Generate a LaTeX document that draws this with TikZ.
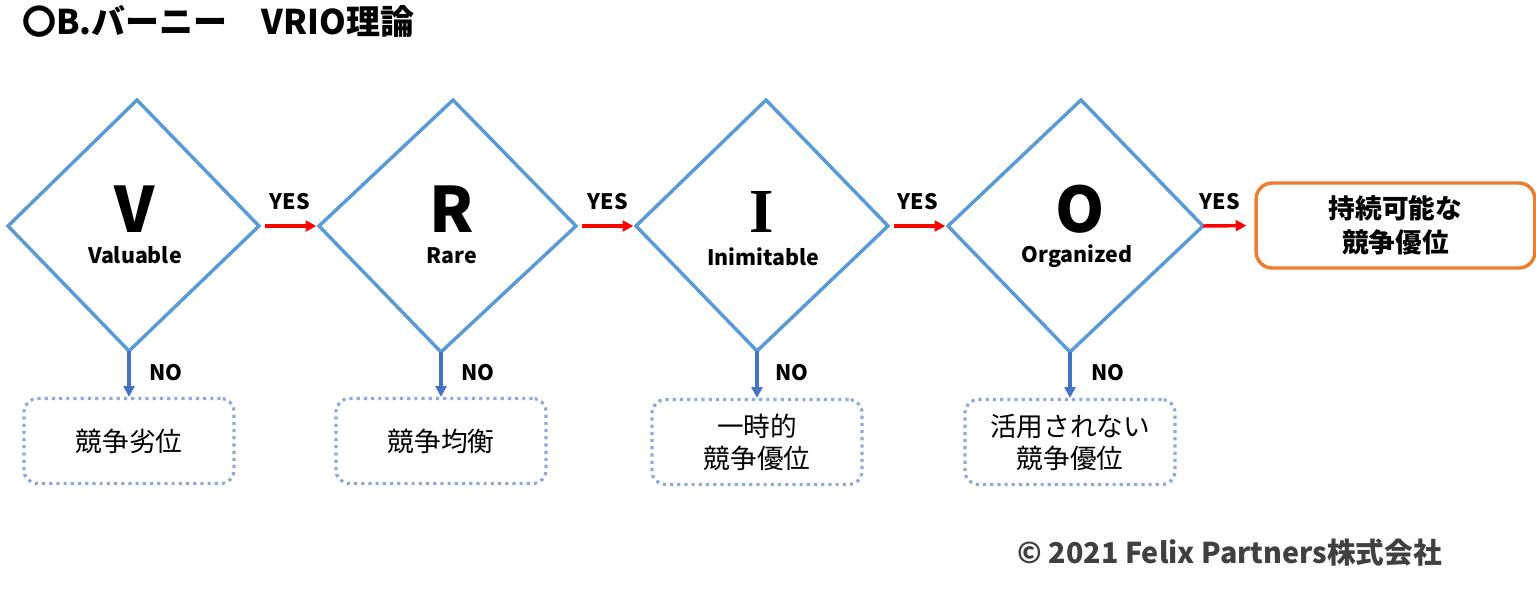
\documentclass[tikz,border=0pt]{standalone}
\usepackage{fontspec}
\setmainfont{Noto Sans CJK JP}
\newfontfamily\serifbig{Liberation Serif}
\usetikzlibrary{arrows.meta}
\definecolor{diablue}{HTML}{5B9BD5}
\definecolor{noblue}{HTML}{4472C4}
\definecolor{dotblue}{HTML}{8FAADC}
\definecolor{orangec}{HTML}{ED7D31}
\definecolor{copyc}{HTML}{404040}
\begin{document}
\begin{tikzpicture}[x=0.75pt,y=-0.75pt,
  dia/.style={draw=diablue, line width=2.6pt, line join=miter},
  yesarr/.style={draw=red, line width=2.6pt, -{Triangle[length=8pt,width=8pt]}},
  noarr/.style={draw=noblue, line width=2.6pt, -{Triangle[length=8pt,width=8pt]}},
  big/.style={font=\fontsize{47}{47}\selectfont\bfseries, anchor=base, inner sep=0pt},
  sub/.style={font=\fontsize{16}{19}\selectfont\bfseries, anchor=base, inner sep=0pt},
  lbl/.style={font=\fontsize{16}{19}\selectfont\bfseries, anchor=base, inner sep=0pt},
  outbox/.style={draw=dotblue, line width=2.4pt, dash pattern=on 2.4pt off 3pt,
    rounded corners=10pt, minimum width=157.5pt, minimum height=63.75pt,
    align=center, font=\fontsize{20}{24}\selectfont, inner sep=0pt},
  finalbox/.style={draw=orangec, line width=2.6pt, rounded corners=12pt,
    minimum width=209pt, minimum height=63.75pt, align=center,
    font=\fontsize{20}{25}\selectfont\bfseries, inner sep=0pt}]
\useasboundingbox[fill=white] (0,0) rectangle (1536,590);

% title
\node[anchor=base west, inner sep=0pt, font=\fontsize{25.5}{30}\selectfont\bfseries] (title) at (22,34) {〇B.バーニー　VRIO理論};

% diamond vertices
\coordinate (d1L) at (8,226);   \coordinate (d1T) at (137,100);  \coordinate (d1R) at (259,226);  \coordinate (d1B) at (129,351);
\coordinate (d2L) at (319,226); \coordinate (d2T) at (453,100);  \coordinate (d2R) at (576,226);  \coordinate (d2B) at (441,352);
\coordinate (d3L) at (636,226); \coordinate (d3T) at (766,100);  \coordinate (d3R) at (888,226);  \coordinate (d3B) at (757,351);
\coordinate (d4L) at (948,226); \coordinate (d4T) at (1081,100); \coordinate (d4R) at (1203,226); \coordinate (d4B) at (1070,352);

\draw[dia] (d1L) -- (d1T) -- (d1R) -- (d1B) -- cycle;
\draw[dia] (d2L) -- (d2T) -- (d2R) -- (d2B) -- cycle;
\draw[dia] (d3L) -- (d3T) -- (d3R) -- (d3B) -- cycle;
\draw[dia] (d4L) -- (d4T) -- (d4R) -- (d4B) -- cycle;

% letters
\node[big] (lv) at (135,232) {V};
\node[sub] (sv) at (135,263) {Valuable};
\node[big] (lr) at (452,232) {R};
\node[sub] (sr) at (452,263) {Rare};
\node[big, font=\fontsize{47}{47}\serifbig\bfseries] (li) at (762,232) {I};
\node[sub] (si) at (763,265) {Inimitable};
\node[big] (lo) at (1080,232) {O};
\node[sub] (so) at (1077,262) {Organized};

% final box
\node[finalbox] (sca) at (1395.5,225.5) {持続可能な\\競争優位};

% yes arrows
\draw[yesarr, shorten <=4.5pt, shorten >=2pt] (d1R) -- (d2L);
\draw[yesarr, shorten <=4.5pt, shorten >=2pt] (d2R) -- (d3L);
\draw[yesarr, shorten <=4.5pt, shorten >=2pt] (d3R) -- (d4L);
\draw[yesarr, shorten >=6pt] (d4R) -- (sca.west);
\node[lbl] (y1) at (290,209) {YES};
\node[lbl] (y2) at (608,209) {YES};
\node[lbl] (y3) at (918,209) {YES};
\node[lbl] (y4) at (1220,209) {YES};

% outcome boxes
\node[outbox] (b1) at (129,441) {競争劣位};
\node[outbox] (b2) at (441,441) {競争均衡};
\node[outbox] (b3) at (757,442) {一時的\\競争優位};
\node[outbox] (b4) at (1070,442) {活用されない\\競争優位};

% no arrows
\draw[noarr] (d1B) -- (b1.north);
\draw[noarr] (d2B) -- (b2.north);
\draw[noarr] (d3B) -- (b3.north);
\draw[noarr] (d4B) -- (b4.north);
\node[lbl] (n1) at (166,380) {NO};
\node[lbl] (n2) at (478,380) {NO};
\node[lbl] (n3) at (792,380) {NO};
\node[lbl] (n4) at (1108,380) {NO};

% copyright
\node[anchor=base east, inner sep=0pt, text=copyc, font=\fontsize{21.5}{25}\selectfont\bfseries] (copy) at (1442,563) {© 2021 Felix Partners株式会社};
\end{tikzpicture}
\end{document}
